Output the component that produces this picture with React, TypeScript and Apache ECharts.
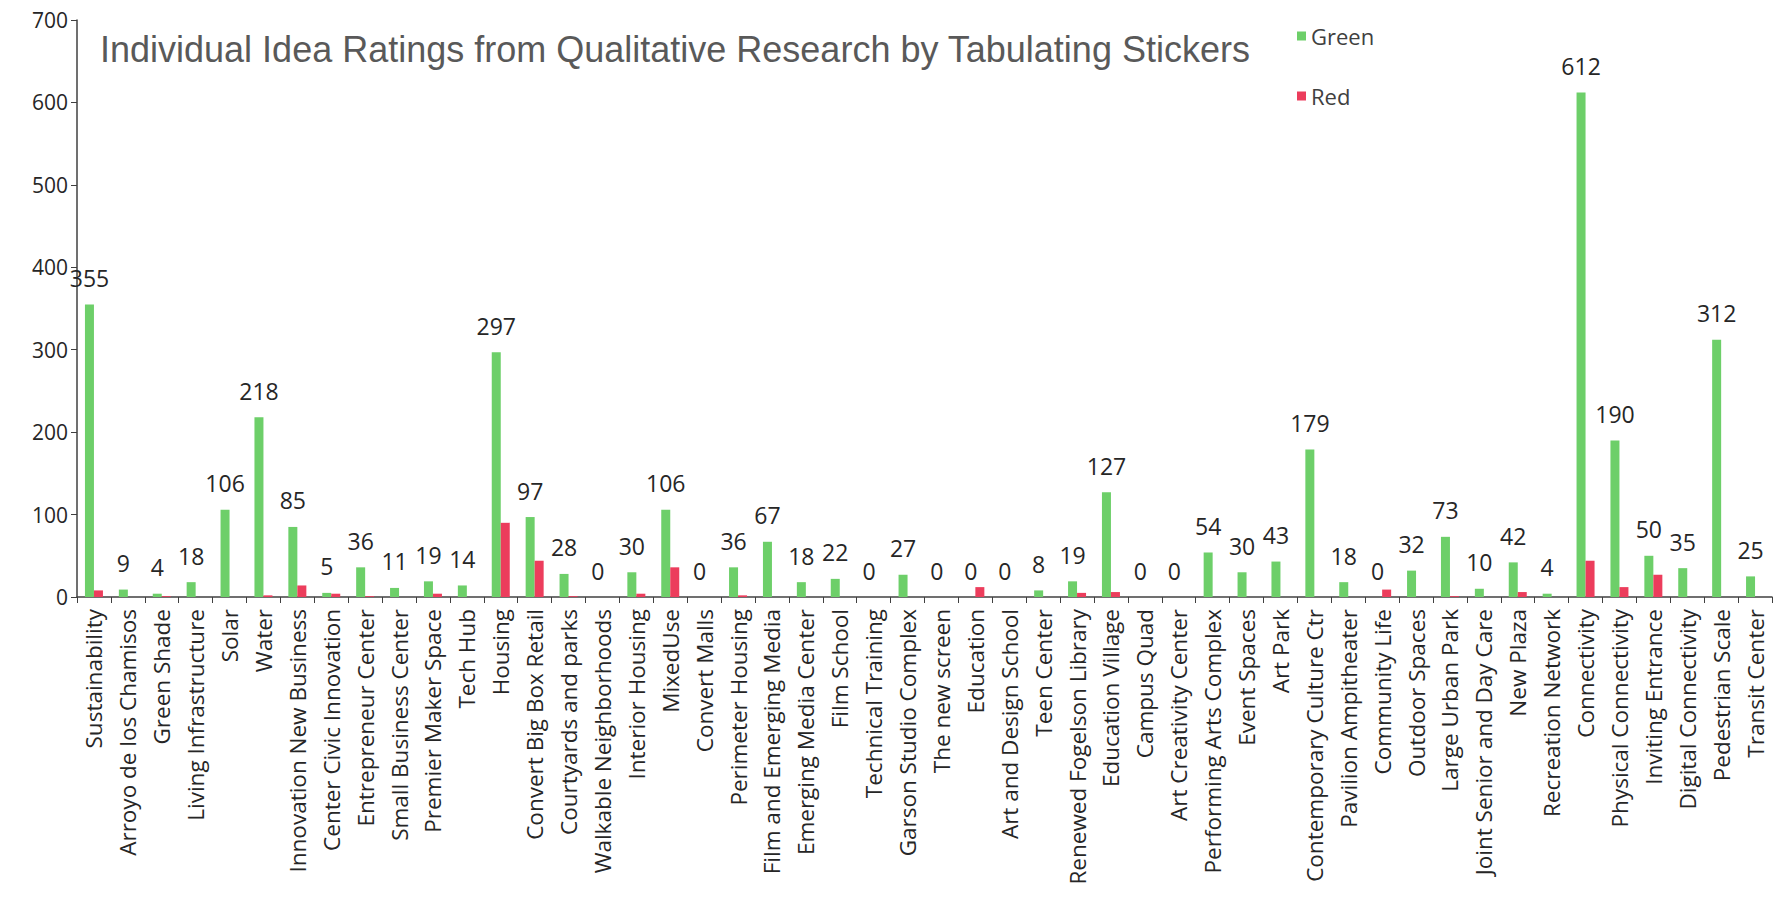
import React, { useEffect, useRef } from "react";
import * as echarts from "echarts";

const categories = [
  "Sustainability", "Arroyo de los Chamisos", "Green Shade", "Living Infrastructure", "Solar",
  "Water", "Innovation New Business", "Center Civic Innovation", "Entrepreneur Center", "Small Business Center",
  "Premier Maker Space", "Tech Hub", "Housing", "Convert Big Box Retail", "Courtyards and parks",
  "Walkable Neighborhoods", "Interior Housing", "MixedUse", "Convert Malls", "Perimeter Housing",
  "Film and Emerging Media", "Emerging Media Center", "Film School", "Technical Training", "Garson Studio Complex",
  "The new screen", "Education", "Art and Design School", "Teen Center", "Renewed Fogelson Library",
  "Education Village", "Campus Quad", "Art Creativity Center", "Performing Arts Complex", "Event Spaces",
  "Art Park", "Contemporary Culture Ctr", "Pavilion Ampitheater", "Community Life", "Outdoor Spaces",
  "Large Urban Park", "Joint Senior and Day Care", "New Plaza", "Recreation Network", "Connectivity",
  "Physical Connectivity", "Inviting Entrance", "Digital Connectivity", "Pedestrian Scale", "Transit Center",
];

const greenValues = [
  355, 9, 4, 18, 106, 218, 85, 5, 36, 11,
  19, 14, 297, 97, 28, 0, 30, 106, 0, 36,
  67, 18, 22, 0, 27, 0, 0, 0, 8, 19,
  127, 0, 0, 54, 30, 43, 179, 18, 0, 32,
  73, 10, 42, 4, 612, 190, 50, 35, 312, 25,
];

const redValues = [
  8, 0, 1, 0, 0, 2, 14, 4, 1, 0,
  4, 0, 90, 44, 1, 0, 4, 36, 0, 2,
  0, 0, 0, 0, 0, 0, 12, 0, 0, 5,
  6, 0, 0, 0, 0, 0, 0, 0, 9, 0,
  1, 0, 6, 0, 44, 12, 27, 0, 0, 0,
];

const yTicks = { min: 0, max: 700, interval: 100 };
const titleText = "Individual Idea Ratings from Qualitative Research by Tabulating Stickers";

export default function App() {
  const ref = useRef<HTMLDivElement>(null);
  useEffect(() => {
    if (!ref.current) return;
    const chart = echarts.init(ref.current, null, { renderer: "svg" });
    const axisColor = "#404040";
    const font = "'Open Sans', 'Noto Sans', sans-serif";
    chart.setOption({
      animation: false,
      backgroundColor: "#ffffff",
      title: {
        text: titleText,
        left: 100,
        top: 31,
        padding: 0,
        textStyle: {
          fontFamily: "'Liberation Sans', Arial, sans-serif",
          fontSize: 36,
          fontWeight: "normal",
          color: "#595959",
        },
      },
      legend: {
        orient: "vertical",
        left: 1292,
        top: 20,
        itemWidth: 9,
        itemHeight: 9,
        itemGap: 38,
        icon: "rect",
        textStyle: { fontFamily: font, fontSize: 22, color: axisColor },
        data: ["Green", "Red"],
      },
      grid: { left: 77, right: 3, top: 20, bottom: 306, containLabel: false },
      xAxis: {
        type: "category",
        data: categories,
        boundaryGap: true,
        axisLine: { lineStyle: { color: axisColor, width: 1.5 } },
        axisTick: { show: true, length: 6, alignWithLabel: false, lineStyle: { color: axisColor } },
        axisLabel: {
          rotate: 90,
          interval: 0,
          margin: 12,
          fontFamily: font,
          fontSize: 22.5,
          color: "#262626",
        },
      },
      yAxis: {
        type: "value",
        min: yTicks.min,
        max: yTicks.max,
        interval: yTicks.interval,
        splitLine: { show: false },
        axisLine: { show: true, lineStyle: { color: axisColor, width: 1.5 } },
        axisTick: { show: true, length: 6, lineStyle: { color: axisColor } },
        axisLabel: { fontFamily: font, fontSize: 21, color: "#262626", margin: 9 },
      },
      series: [
        {
          name: "Green",
          type: "bar",
          data: greenValues,
          barWidth: 9,
          barGap: "0%",
          itemStyle: { color: "#6dcf69" },
          label: {
            show: true,
            position: "top",
            distance: 15,
            fontFamily: font,
            fontSize: 23,
            color: "#262626",
          },
        },
        {
          name: "Red",
          type: "bar",
          data: redValues,
          barWidth: 9,
          barGap: "0%",
          itemStyle: { color: "#ec3d5c" },
        },
      ],
    });
    return () => chart.dispose();
  }, []);
  return (
    <div
      ref={ref}
      style={{ position: "fixed", left: 0, top: 0, width: 1775, height: 903, background: "#fff" }}
    />
  );
}
